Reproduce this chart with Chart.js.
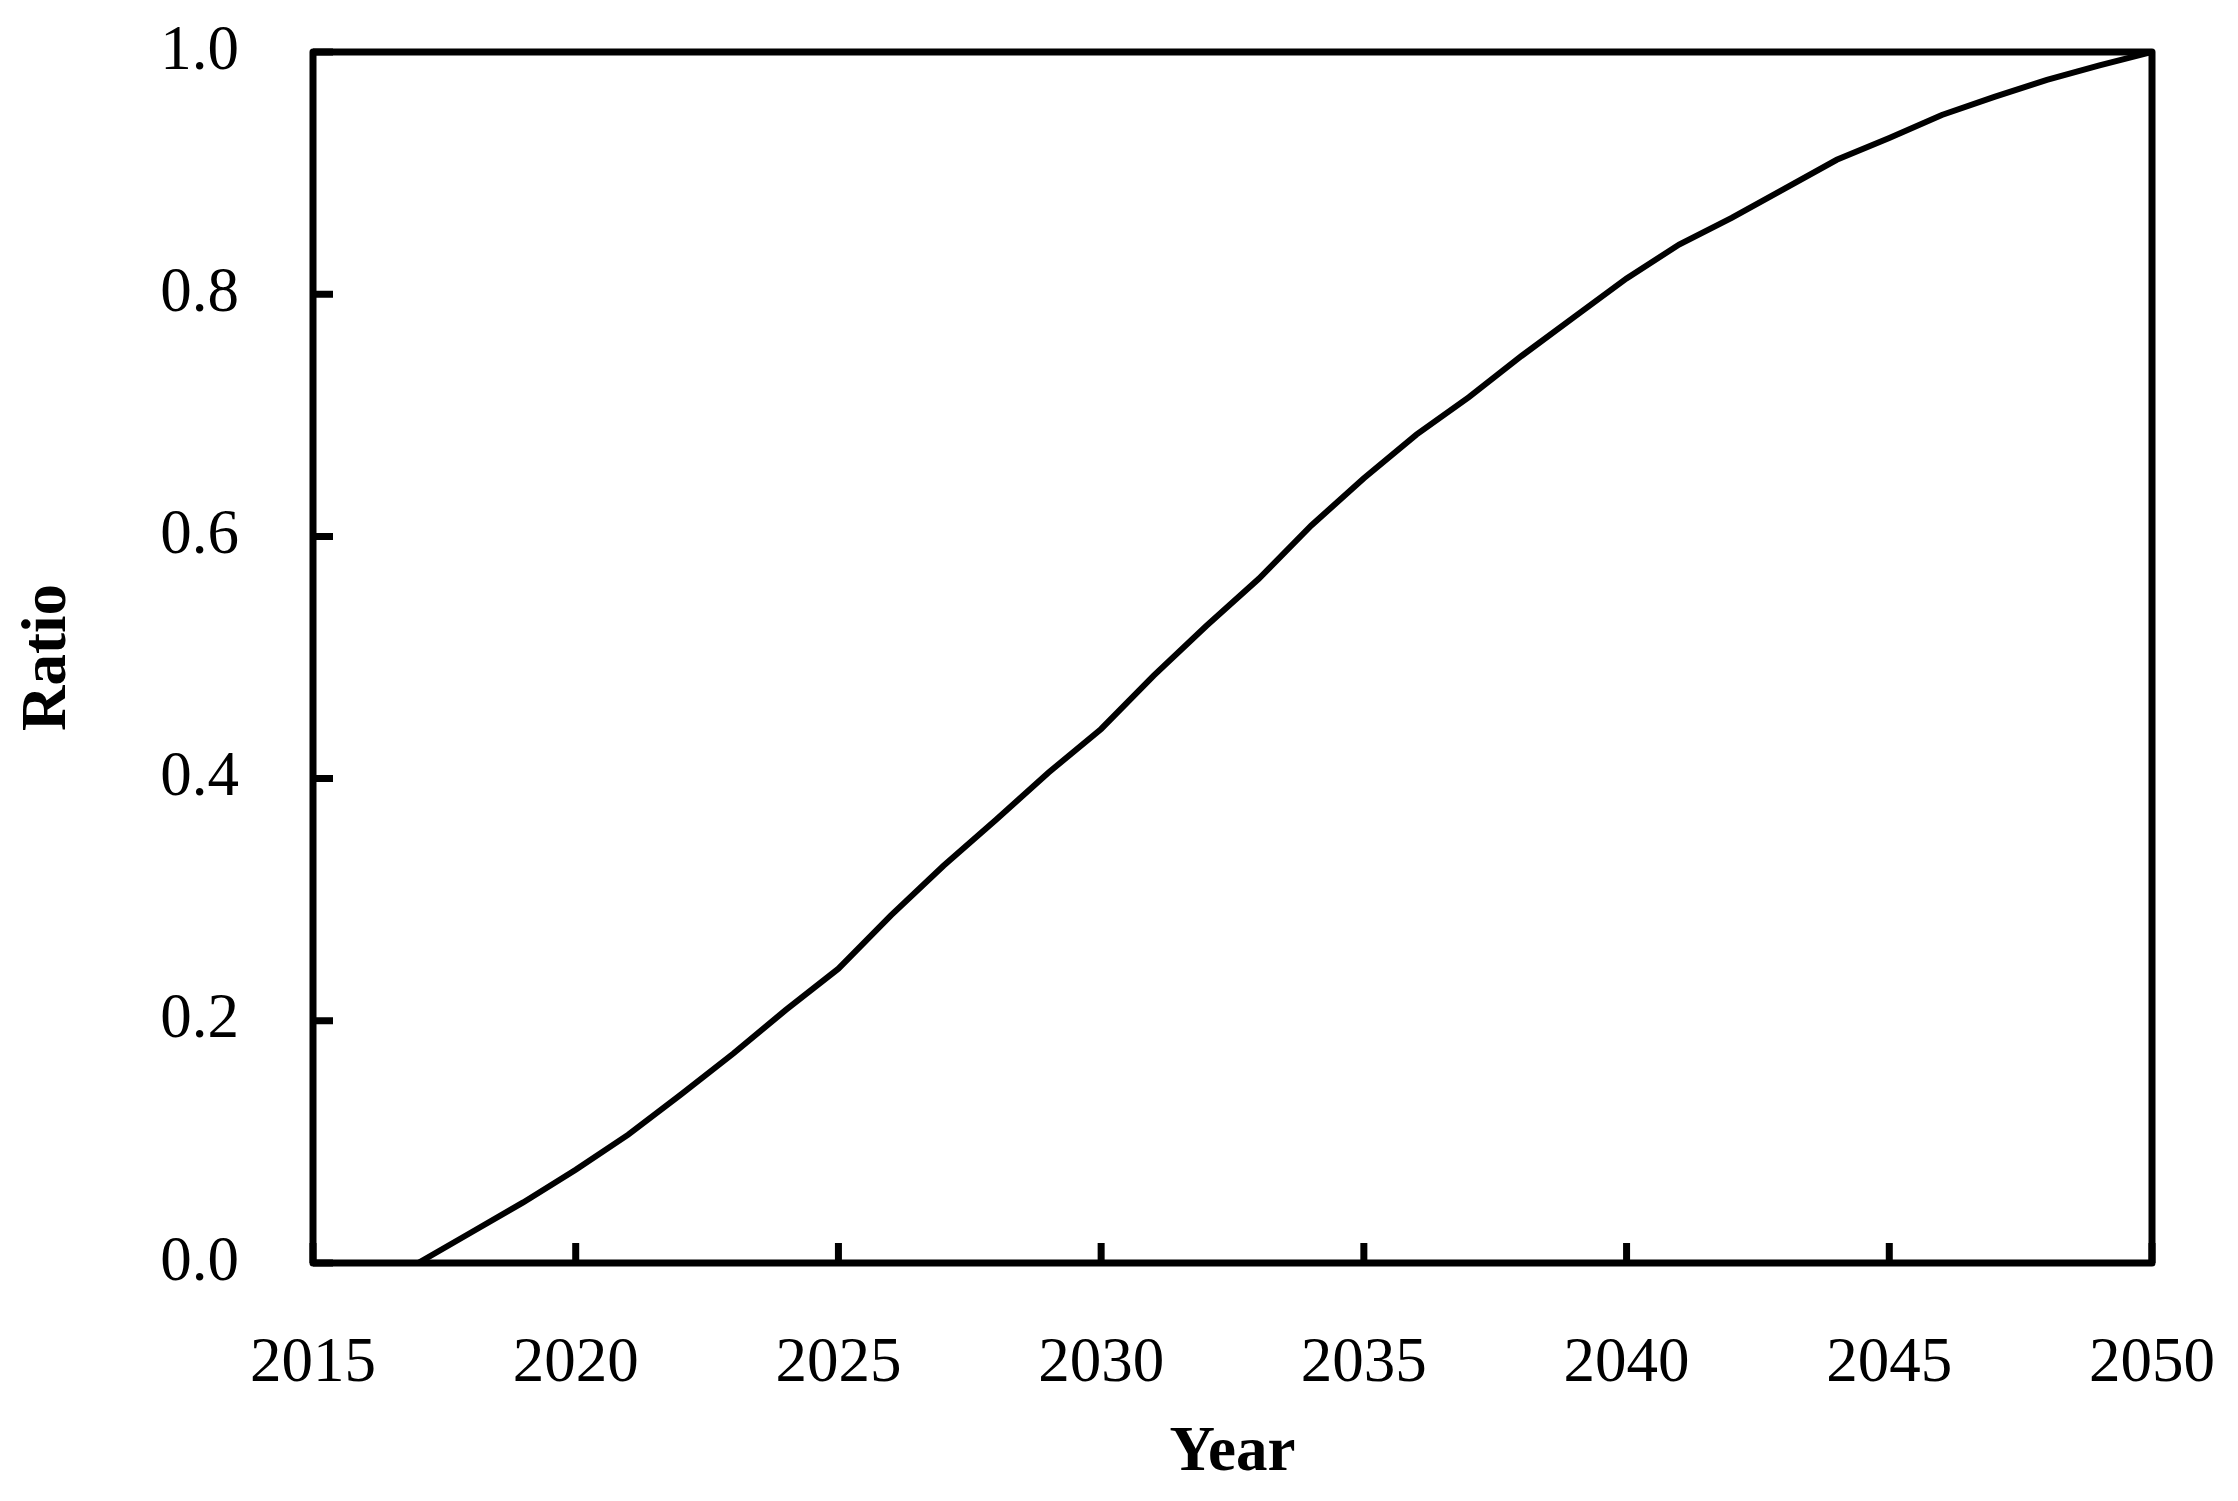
<!DOCTYPE html>
<html>
<head>
<meta charset="utf-8">
<script src="https://cdn.jsdelivr.net/npm/chart.js@4/dist/chart.umd.min.js"></script>
<style>
  html, body { margin: 0; padding: 0; background: #ffffff; }
  canvas { display: block; }
</style>
</head>
<body>
<canvas id="ratioChart" width="2238" height="1501"></canvas>
<script>
// valeurs
const years = [2017, 2018, 2019, 2020, 2021, 2022, 2023, 2024, 2025, 2026, 2027, 2028,
  2029, 2030, 2031, 2032, 2033, 2034, 2035, 2036, 2037, 2038, 2039, 2040, 2041, 2042,
  2043, 2044, 2045, 2046, 2047, 2048, 2049, 2050];
const ratio = [0.000, 0.025, 0.050, 0.077, 0.106, 0.139, 0.173, 0.209, 0.243, 0.287,
  0.328, 0.366, 0.405, 0.441, 0.485, 0.526, 0.565, 0.609, 0.648, 0.684, 0.715, 0.749,
  0.781, 0.813, 0.841, 0.863, 0.887, 0.911, 0.929, 0.948, 0.963, 0.977, 0.989, 1.000];

const xMin = 2015, xMax = 2050, xStep = 5;
const yMin = 0, yMax = 1, yStep = 0.2;

const points = years.map((y, i) => ({x: y, y: ratio[i]}));

const FONT = "'Liberation Serif', 'DejaVu Serif', serif";

// cadre + graduations vers l'intérieur
const framePlugin = {
  id: 'frame',
  afterDatasetsDraw(chart) {
    const {ctx, chartArea, scales} = chart;
    const {left, right, top, bottom} = chartArea;
    ctx.save();
    ctx.strokeStyle = '#000';
    ctx.lineWidth = 7;
    ctx.beginPath();
    scales.x.ticks.forEach(t => {
      const px = scales.x.getPixelForValue(t.value);
      ctx.moveTo(px, bottom);
      ctx.lineTo(px, bottom - 20);
    });
    scales.y.ticks.forEach(t => {
      const py = scales.y.getPixelForValue(t.value);
      ctx.moveTo(left, py);
      ctx.lineTo(left + 20, py);
    });
    ctx.stroke();
    ctx.lineJoin = 'round';
    ctx.strokeRect(left, top, right - left, bottom - top);
    ctx.restore();
  }
};

new Chart(document.getElementById('ratioChart').getContext('2d'), {
  type: 'line',
  data: {
    datasets: [{
      data: points,
      borderColor: '#000',
      borderWidth: 6,
      pointRadius: 0,
      tension: 0,
      fill: false
    }]
  },
  options: {
    responsive: false,
    animation: false,
    devicePixelRatio: 1,
    layout: { padding: { top: 52, right: 86, left: 0, bottom: 0 } },
    plugins: { legend: { display: false }, tooltip: { enabled: false } },
    scales: {
      x: {
        type: 'linear',
        min: xMin,
        max: xMax,
        grid: { display: false },
        border: { display: false },
        ticks: {
          stepSize: xStep,
          padding: 56,
          color: '#000',
          font: { family: FONT, size: 63 },
          callback: v => String(v)
        },
        title: {
          display: true,
          text: 'Year',
          color: '#000',
          font: { family: FONT, size: 63, weight: 'bold' },
          padding: { top: 0, bottom: 9 }
        },
        afterFit: s => {
          s.height = 238;
          s.paddingLeft = 0;
          s.paddingRight = 0;
        }
      },
      y: {
        min: yMin,
        max: yMax,
        grid: { display: false },
        border: { display: false },
        ticks: {
          stepSize: yStep,
          padding: 66,
          color: '#000',
          font: { family: FONT, size: 63 },
          callback: v => Number(v).toFixed(1)
        },
        title: {
          display: true,
          text: 'Ratio',
          color: '#000',
          font: { family: FONT, size: 63, weight: 'bold' },
          padding: { top: 11, bottom: 0 }
        },
        afterFit: s => {
          s.width = 313;
          s.paddingTop = 0;
          s.paddingBottom = 0;
        }
      }
    }
  },
  plugins: [framePlugin]
});
</script>
</body>
</html>
